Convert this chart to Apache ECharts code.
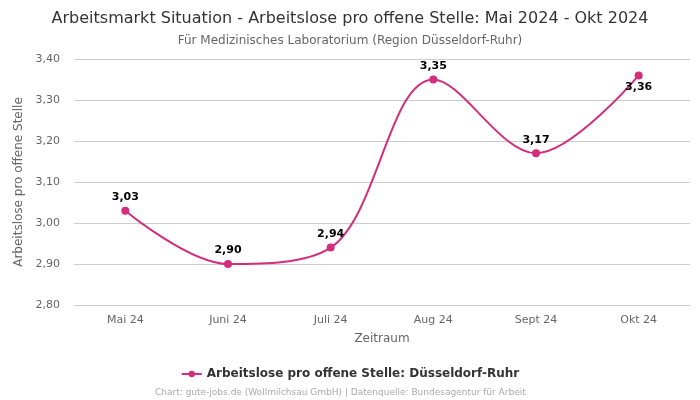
<!DOCTYPE html>
<html>
<head>
<meta charset="utf-8">
<script src="https://cdn.jsdelivr.net/npm/echarts@6/dist/echarts.min.js"></script>
<style>
  body { margin: 0; background: #fff; }
  #chart { width: 700px; height: 400px; }
</style>
</head>
<body>
<div id="chart"></div>
<script>
// Daten
var categories = ['Mai 24', 'Juni 24', 'Juli 24', 'Aug 24', 'Sept 24', 'Okt 24'];
var values = [3.03, 2.90, 2.94, 3.35, 3.17, 3.36];
var seriesName = 'Arbeitslose pro offene Stelle: Düsseldorf-Ruhr';

var color = '#d22e7d';
var font = 'DejaVu Sans, sans-serif';

function fmt(v) {
  return v.toFixed(2).replace('.', ',');
}

var chart = echarts.init(document.getElementById('chart'));

var pointData = values.map(function (v, i) {
  // letzter Punkt: Label unten, sonst oben
  if (i === values.length - 1) {
    return { value: v, label: { position: 'bottom', distance: 2 } };
  }
  return v;
});

chart.setOption({
  backgroundColor: '#fff',
  textStyle: { fontFamily: font },
  title: [{
    text: 'Arbeitsmarkt Situation - Arbeitslose pro offene Stelle: Mai 2024 - Okt 2024',
    subtext: 'Für Medizinisches Laboratorium (Region Düsseldorf-Ruhr)',
    left: 'center',
    top: 6,
    itemGap: 8,
    textStyle: { fontSize: 16, fontWeight: 'normal', color: '#333', fontFamily: font },
    subtextStyle: { fontSize: 12, color: '#666', fontFamily: font }
  }, {
    text: 'Chart: gute-jobs.de (Wollmilchsau GmbH) | Datenquelle: Bundesagentur für Arbeit',
    left: 150,
    top: 383,
    textStyle: { fontSize: 9, fontWeight: 'normal', color: '#aaa', fontFamily: font }
  }],
  legend: {
    data: [seriesName],
    bottom: 15,
    left: 'center',
    itemWidth: 20,
    itemHeight: 8,
    textStyle: { fontSize: 12, fontWeight: 'bold', color: '#333', fontFamily: font }
  },
  grid: { left: 74, right: 10, top: 59, bottom: 95 },
  xAxis: {
    type: 'category',
    data: categories,
    boundaryGap: true,
    name: 'Zeitraum',
    nameLocation: 'middle',
    nameGap: 28,
    nameTextStyle: { fontSize: 12, color: '#666' },
    axisLine: { lineStyle: { color: '#ccc' } },
    axisTick: { show: false },
    axisLabel: { fontSize: 11, color: '#666', margin: 10 }
  },
  yAxis: {
    type: 'value',
    min: 2.8,
    max: 3.4,
    interval: 0.1,
    name: 'Arbeitslose pro offene Stelle',
    nameLocation: 'middle',
    nameGap: 46,
    nameTextStyle: { fontSize: 12, color: '#666' },
    axisLine: { show: false },
    axisTick: { show: false },
    splitLine: { lineStyle: { color: '#ccc' } },
    axisLabel: { fontSize: 11, color: '#666', margin: 14, formatter: fmt }
  },
  series: [{
    name: seriesName,
    type: 'line',
    data: pointData,
    smooth: 0.35,
    symbol: 'circle',
    symbolSize: 8,
    itemStyle: { color: color },
    lineStyle: { color: color, width: 2 },
    label: {
      show: true,
      position: 'top',
      distance: 4,
      fontSize: 11,
      fontWeight: 'bold',
      color: '#000',
      formatter: function (p) { return fmt(p.value); }
    }
  }]
});
</script>
</body>
</html>
